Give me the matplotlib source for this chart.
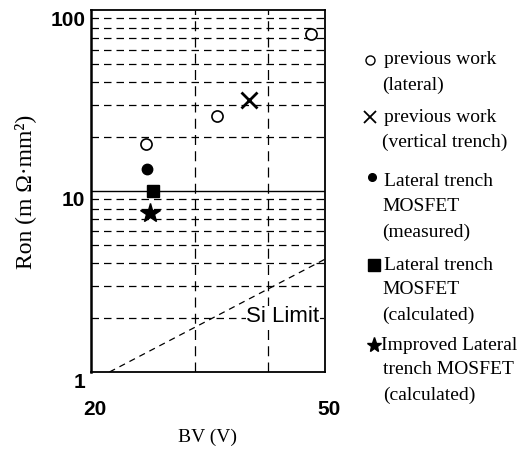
import numpy as np
import matplotlib
matplotlib.use('Agg')
import matplotlib.pyplot as plt
import matplotlib.transforms as mtransforms
from matplotlib.lines import Line2D

# data
prev_lateral_bv = [24.8, 32.7, 47.4]
prev_lateral_ron = [18.2, 26.0, 73.4]
prev_vertical_bv = [37.2]
prev_vertical_ron = [31.8]
measured_bv = [24.9]
measured_ron = [13.2]
calculated_bv = [25.5]
calculated_ron = [10.0]
improved_bv = [25.2]
improved_ron = [7.6]
si_limit_bv = [21.5, 50.0]
si_limit_ron = [1.0, 4.2]

x_ticks = [20, 50]
y_ticks = [1, 10, 100]
y_grid_minor = [2, 3, 4, 5, 6, 7, 8, 9, 20, 30, 40, 50, 60, 70, 80, 90]
x_grid = [30, 40]

legend_lines = [
    ('o', ['previous work', '(lateral)']),
    ('x', ['previous work', '(vertical trench)']),
    ('.', ['Lateral trench', 'MOSFET', '(measured)']),
    ('s', ['Lateral trench', 'MOSFET', '(calculated)']),
    ('*', ['Improved Lateral', 'trench MOSFET', '(calculated)']),
]

serif = ['Liberation Serif', 'DejaVu Serif']
sans = ['Liberation Sans', 'DejaVu Sans']

fig = plt.figure(figsize=(5.24, 4.5), dpi=100)
W, H = 524, 450
ax = fig.add_axes([91 / W, 1 - 372 / H, 234 / W, 362 / H])
ax.set_xscale('log')
ax.set_yscale('log')
ax.set_xlim(20, 50)
ax.set_ylim(1, 100)

# grid
for y in y_grid_minor:
    ax.axhline(y, color='black', lw=0.9, ls=(0, (6, 4)), zorder=1)
ax.axhline(10, color='black', lw=1.0, zorder=1)
for x in x_grid:
    ax.axvline(x, color='black', lw=0.9, ls=(0, (8, 5)), zorder=1)

# si limit
ax.plot(si_limit_bv, si_limit_ron, color='black', lw=0.9, ls=(0, (5, 4)), zorder=2)
ax.text(48.9, 2.02, 'Si Limit', fontsize=16, family=sans, ha='right', va='center', zorder=2.2,
        bbox=dict(facecolor='white', edgecolor='none', pad=0.5))

# data points
ax.plot(prev_lateral_bv, prev_lateral_ron, 'o', ms=8, mfc='white', mec='black', mew=1.2, ls='none', zorder=3)
ax.plot(prev_vertical_bv, prev_vertical_ron, 'x', ms=12, mec='black', mew=2.0, ls='none', zorder=3)
ax.plot(measured_bv, measured_ron, 'o', ms=7.5, color='black', ls='none', zorder=3)
ax.plot(calculated_bv, calculated_ron, 's', ms=8.5, color='black', ls='none', zorder=3)
ax.plot(improved_bv, improved_ron, '*', ms=15, color='black', ls='none', zorder=3)

# axes styling
for side in ['top', 'right', 'bottom']:
    ax.spines[side].set_linewidth(1.3)
ax.spines['left'].set_linewidth(1.8)
ax.xaxis.set_minor_locator(plt.NullLocator())
ax.yaxis.set_minor_locator(plt.NullLocator())
ax.set_xticks(x_ticks)
ax.set_xticklabels([str(v) for v in x_ticks])
ax.set_yticks(y_ticks)
ax.set_yticklabels([str(v) for v in y_ticks])
ax.tick_params(axis='both', length=0, labelsize=15)
ax.tick_params(axis='x', pad=20)
ax.tick_params(axis='y', pad=4)
for lab in ax.get_yticklabels():
    lab.set_family(sans)
    lab.set_fontweight('bold')
    lab.set_transform(lab.get_transform() + mtransforms.ScaledTranslation(0, -8 / 100, fig.dpi_scale_trans))
for lab in ax.get_xticklabels():
    lab.set_family(sans)
    lab.set_fontweight('bold')
    lab.set_transform(lab.get_transform() + mtransforms.ScaledTranslation(4 / 100, 0, fig.dpi_scale_trans))

fig.text(208 / W, 1 - 437 / H, 'BV (V)', fontsize=14, family=serif, ha='center', va='center')
fig.text(25 / W, 1 - 192 / H, 'Ron (m \u03a9\u00b7mm\u00b2)', fontsize=17, family=serif,
         rotation=90, ha='center', va='center')

# legend drawn as text with markers
marker_pos = [(370, 60), (370, 117), (372, 177), (374, 265), (374, 345)]
text_y0 = [60, 117, 182, 265, 345]
marker_style = {
    'o': dict(marker='o', ms=6.5, mfc='white', mec='black', mew=1.0),
    'x': dict(marker='x', ms=9, mec='black', mew=1.3),
    '.': dict(marker='o', ms=5.5, mfc='black', mec='black'),
    's': dict(marker='s', ms=8, mfc='black', mec='black'),
    '*': dict(marker='*', ms=11, mfc='black', mec='black'),
}
for (mk, lines), (mx, my), ty in zip(legend_lines, marker_pos, text_y0):
    fig.add_artist(Line2D([mx / W], [1 - my / H], ls='none', transform=fig.transFigure,
                          **marker_style[mk]))
    for i, line in enumerate(lines):
        x0 = 384 if i == 0 else 382
        if mk == '*':
            x0 = 381 if i == 0 else 383
        fig.text(x0 / W, 1 - (ty + 25 * i) / H, line, fontsize=14, family=serif,
                 ha='left', va='center')

fig.savefig('out.png', dpi=100)
